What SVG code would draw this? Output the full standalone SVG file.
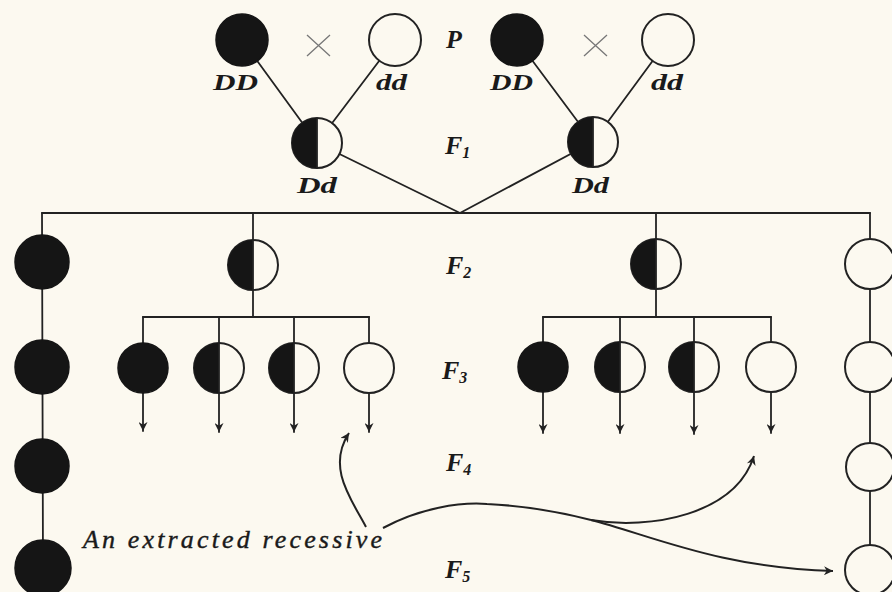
<svg xmlns="http://www.w3.org/2000/svg" xmlns:xlink="http://www.w3.org/1999/xlink" width="892" height="592" viewBox="0 0 892 592">
  <style>
    .ln { stroke: #222; stroke-width: 1.8; fill: none; stroke-linecap: round; }
    .cv { stroke: #222; stroke-width: 2; fill: none; }
    .blk { fill: #151515; stroke: #151515; stroke-width: 1.5; }
    .wht { fill: #fcf9f0; stroke: #222; stroke-width: 2; }
    .lab { font-family: "Liberation Serif", "DejaVu Serif", serif; font-style: italic; font-weight: bold; fill: #1a1a1a; font-size: 23px; }
    .gen { font-family: "Liberation Serif", "DejaVu Serif", serif; font-style: italic; font-weight: bold; fill: #1a1a1a; font-size: 26px; }
    .sub { font-size: 16px; }
    .cap { font-family: "Liberation Serif", "DejaVu Serif", serif; font-style: italic; fill: #1a1a1a; font-size: 26px; stroke: #1a1a1a; stroke-width: 0.4; }
    .x { stroke: #777; stroke-width: 1.3; }
  </style>
  <defs>
    <g id="half">
      <circle r="25" class="wht"/>
      <path d="M0,-25 A25,25 0 0 0 0,25 Z" fill="#151515"/>
      <line x1="0" y1="-25" x2="0" y2="25" stroke="#222" stroke-width="1.8"/>
    </g>
    <marker id="ah" viewBox="0 0 10 10" markerUnits="userSpaceOnUse" markerWidth="11" markerHeight="9" refX="10" refY="5" orient="auto">
      <path d="M0,0 L10,5 L0,10 L3,5 Z" fill="#222"/>
    </marker>
  </defs>
  <rect width="892" height="592" fill="#fcf9f0"/>

  <g id="connectors">
    <line class="ln" x1="242" y1="40" x2="317" y2="143"/>
    <line class="ln" x1="395" y1="40" x2="317" y2="143"/>
    <line class="ln" x1="517" y1="40" x2="593" y2="142"/>
    <line class="ln" x1="668" y1="40" x2="593" y2="142"/>
    <line class="ln" x1="317" y1="143" x2="460" y2="213"/>
    <line class="ln" x1="593" y1="142" x2="460" y2="213"/>
    <line class="ln" x1="42" y1="213" x2="870" y2="213"/>
    <line class="ln" x1="42" y1="213" x2="43" y2="568"/>
    <line class="ln" x1="870" y1="213" x2="870" y2="570"/>
    <line class="ln" x1="253" y1="213" x2="253" y2="317"/>
    <line class="ln" x1="656" y1="213" x2="656" y2="317"/>
    <line class="ln" x1="143" y1="317" x2="369" y2="317"/>
    <line class="ln" x1="543" y1="317" x2="771" y2="317"/>
    <line class="ln" x1="143" y1="317" x2="143" y2="431" marker-end="url(#ah)"/>
    <line class="ln" x1="219" y1="317" x2="219" y2="432" marker-end="url(#ah)"/>
    <line class="ln" x1="294" y1="317" x2="294" y2="432" marker-end="url(#ah)"/>
    <line class="ln" x1="369" y1="317" x2="369" y2="432" marker-end="url(#ah)"/>
    <line class="ln" x1="543" y1="317" x2="543" y2="433" marker-end="url(#ah)"/>
    <line class="ln" x1="620" y1="317" x2="620" y2="433" marker-end="url(#ah)"/>
    <line class="ln" x1="694" y1="317" x2="694" y2="434" marker-end="url(#ah)"/>
    <line class="ln" x1="771" y1="317" x2="771" y2="433" marker-end="url(#ah)"/>
    <path class="cv" d="M366,527 C352,500 326,468 349,433" marker-end="url(#ah)"/>
    <path class="cv" d="M383,528 C420,508 460,502 487,504 C530,506 560,512 591,520"/>
    <path class="cv" d="M591,520 C650,530 735,515 754,456" marker-end="url(#ah)"/>
    <path class="cv" d="M591,520 C650,535 720,568 833,571" marker-end="url(#ah)"/>
  </g>

  <g id="p-cross-1">
    <circle id="p1-DD" cx="242" cy="40" r="26" class="blk"/>
    <text class="lab" x="213" y="90" textLength="45" lengthAdjust="spacingAndGlyphs">DD</text>
    <path class="x" d="M307,35 L330,56 M330,35 L307,56"/>
    <circle id="p1-dd" cx="395" cy="40" r="26" class="wht"/>
    <text class="lab" x="376" y="90" textLength="31" lengthAdjust="spacingAndGlyphs">dd</text>
  </g>
  <g id="p-cross-2">
    <circle id="p2-DD" cx="517" cy="40" r="26" class="blk"/>
    <text class="lab" x="490" y="90" textLength="43" lengthAdjust="spacingAndGlyphs">DD</text>
    <path class="x" d="M584,35 L607,56 M607,35 L584,56"/>
    <circle id="p2-dd" cx="668" cy="40" r="26" class="wht"/>
    <text class="lab" x="651" y="90" textLength="32" lengthAdjust="spacingAndGlyphs">dd</text>
  </g>
  <g id="f1-left">
    <use xlink:href="#half" href="#half" x="317" y="143"/>
    <text class="lab" x="297" y="193" textLength="40" lengthAdjust="spacingAndGlyphs">Dd</text>
  </g>
  <g id="f1-right">
    <use xlink:href="#half" href="#half" x="593" y="142"/>
    <text class="lab" x="572" y="193" textLength="37" lengthAdjust="spacingAndGlyphs">Dd</text>
  </g>

  <g id="dominant-line">
    <circle cx="42" cy="262" r="27" class="blk"/>
    <circle cx="42" cy="367" r="27" class="blk"/>
    <circle cx="42" cy="466" r="27" class="blk"/>
    <circle cx="43" cy="568" r="28" class="blk"/>
  </g>
  <g id="f2-hybrid-left">
    <use xlink:href="#half" href="#half" x="253" y="265"/>
  </g>
  <g id="f3-left">
    <circle cx="143" cy="368" r="25" class="blk"/>
    <use xlink:href="#half" href="#half" x="219" y="368"/>
    <use xlink:href="#half" href="#half" x="294" y="368"/>
    <circle cx="369" cy="368" r="25" class="wht"/>
  </g>
  <g id="f2-hybrid-right">
    <use xlink:href="#half" href="#half" x="656" y="264"/>
  </g>
  <g id="f3-right">
    <circle cx="543" cy="367" r="25" class="blk"/>
    <use xlink:href="#half" href="#half" x="620" y="367"/>
    <use xlink:href="#half" href="#half" x="694" y="367"/>
    <circle cx="771" cy="367" r="25" class="wht"/>
  </g>
  <g id="recessive-line">
    <circle cx="870" cy="264" r="25" class="wht"/>
    <circle cx="870" cy="367" r="25" class="wht"/>
    <circle cx="870" cy="467" r="24" class="wht"/>
    <circle cx="870" cy="570" r="25" class="wht"/>
  </g>

  <g id="generation-labels">
    <text class="gen" x="446" y="48">P</text>
    <text class="gen" x="445" y="154">F<tspan class="sub" dy="4">1</tspan></text>
    <text class="gen" x="446" y="274">F<tspan class="sub" dy="4">2</tspan></text>
    <text class="gen" x="442" y="379">F<tspan class="sub" dy="4">3</tspan></text>
    <text class="gen" x="446" y="471">F<tspan class="sub" dy="4">4</tspan></text>
    <text class="gen" x="445" y="578">F<tspan class="sub" dy="4">5</tspan></text>
  </g>
  <g id="caption">
    <text class="cap" x="83" y="548" textLength="299" lengthAdjust="spacing">An extracted recessive</text>
  </g>
</svg>
